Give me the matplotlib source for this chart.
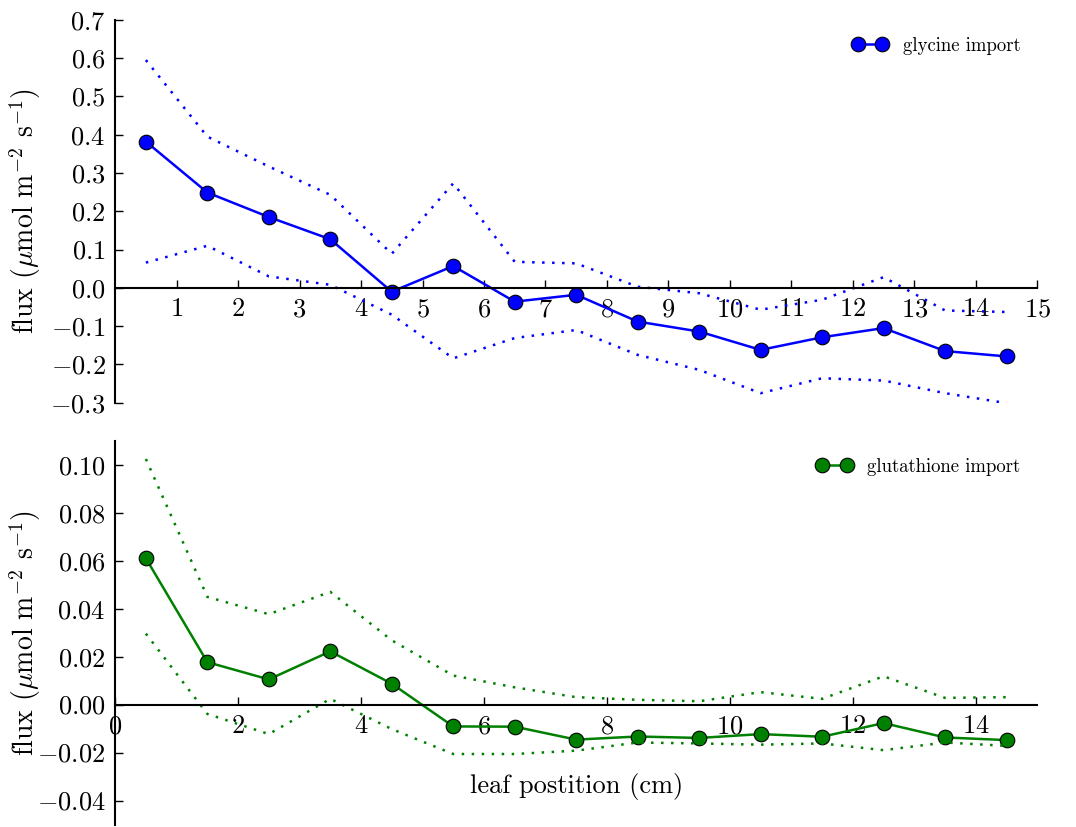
import matplotlib
matplotlib.use("Agg")
import matplotlib.pyplot as plt
import numpy as np

plt.rcParams['font.family'] = 'cmr10'
plt.rcParams['mathtext.fontset'] = 'cm'
plt.rcParams['axes.formatter.use_mathtext'] = True
plt.rcParams['axes.unicode_minus'] = True

# leaf segment centres (cm)
position = [0.5, 1.5, 2.5, 3.5, 4.5, 5.5, 6.5, 7.5, 8.5, 9.5, 10.5, 11.5, 12.5, 13.5, 14.5]

# glycine import flux with upper/lower bounds
glycine = [0.382, 0.249, 0.185, 0.127, -0.010, 0.057, -0.036, -0.018,
           -0.088, -0.114, -0.162, -0.129, -0.105, -0.165, -0.179]
glycine_upper = [0.595, 0.395, 0.317, 0.243, 0.089, 0.273, 0.068, 0.064,
                 0.003, -0.014, -0.057, -0.031, 0.028, -0.059, -0.063]
glycine_lower = [0.066, 0.110, 0.030, 0.008, -0.070, -0.184, -0.131, -0.110,
                 -0.175, -0.214, -0.275, -0.236, -0.242, -0.275, -0.301]

# glutathione import flux with upper/lower bounds
glutathione = [0.0610, 0.0177, 0.0105, 0.0222, 0.0087, -0.0091, -0.0092, -0.0146,
               -0.0133, -0.0139, -0.0123, -0.0134, -0.0077, -0.0137, -0.0148]
glutathione_upper = [0.1024, 0.0449, 0.0377, 0.0470, 0.0268, 0.0121, 0.0072, 0.0031,
                     0.0020, 0.0014, 0.0052, 0.0024, 0.0118, 0.0028, 0.0031]
glutathione_lower = [0.0296, -0.0039, -0.0123, 0.0024, -0.0102, -0.0206, -0.0206, -0.0192,
                     -0.0158, -0.0162, -0.0167, -0.0162, -0.0190, -0.0158, -0.0172]

ylabel = r'flux ($\mu$mol m$^{-2}$ s$^{-1}$)'

fig = plt.figure(figsize=(10.76, 8.27), dpi=100)
ax1 = fig.add_axes([0.107, 0.513, 0.857, 0.463])
ax2 = fig.add_axes([0.107, 0.003, 0.857, 0.464])


def style_axes(ax):
    ax.spines['top'].set_visible(False)
    ax.spines['right'].set_visible(False)
    ax.spines['bottom'].set_position('zero')
    ax.spines['left'].set_linewidth(1.5)
    ax.spines['bottom'].set_linewidth(1.5)
    ax.xaxis.set_ticks_position('bottom')
    ax.yaxis.set_ticks_position('left')
    ax.tick_params(direction='in', length=6, width=1, labelsize=19, pad=7)
    ax.set_xlim(0, 15)


def draw(ax, y, upper, lower, color, label):
    ax.plot(position, y, '-o', color=color, lw=1.8, ms=10.5,
            mec='black', mew=0.8, label=label)
    ax.plot(position, upper, color=color, lw=1.8, ls=(0, (1, 3)))
    ax.plot(position, lower, color=color, lw=1.8, ls=(0, (1, 3)))
    ax.legend(loc='upper right', numpoints=2, frameon=False, fontsize=13.5,
              handlelength=1.9, bbox_to_anchor=(1.0, 1.0))


draw(ax1, glycine, glycine_upper, glycine_lower, 'blue', 'glycine import')
style_axes(ax1)
ax1.set_ylim(-0.3, 0.7)
ax1.set_xticks(range(1, 16))
ax1.set_yticks(np.arange(-0.3, 0.71, 0.1))
ax1.set_ylabel(ylabel, fontsize=20)
ax1.yaxis.set_label_coords(-0.078, 0.5)

draw(ax2, glutathione, glutathione_upper, glutathione_lower, 'green', 'glutathione import')
style_axes(ax2)
ax2.set_ylim(-0.05, 0.11)
ax2.set_xticks(range(0, 15, 2))
ax2.set_yticks(np.arange(-0.04, 0.101, 0.02))
ax2.set_ylabel(ylabel, fontsize=20)
ax2.yaxis.set_label_coords(-0.078, 0.5)
ax2.set_xlabel('leaf postition (cm)', fontsize=19)
ax2.xaxis.set_label_coords(0.5, 0.135)

fig.savefig('out.png', dpi=100)
